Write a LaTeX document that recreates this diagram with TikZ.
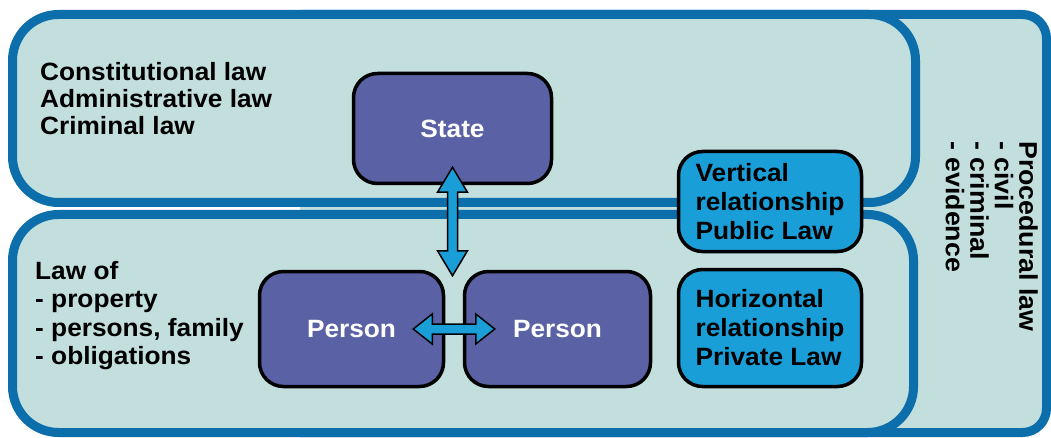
\documentclass[tikz,border=0pt]{standalone}
\usepackage{fontspec}
\setmainfont{Liberation Sans}[FakeStretch=1.05]
\usetikzlibrary{calc}
\definecolor{paneFill}{RGB}{194,222,221}
\definecolor{paneEdge}{RGB}{12,110,170}
\definecolor{actorFill}{RGB}{90,98,165}
\definecolor{tagFill}{RGB}{26,158,216}
\begin{document}
\begin{tikzpicture}[x=1pt,y=-1pt,
  pane/.style={draw=paneEdge, fill=paneFill, line width=9pt},
  actor/.style={draw=black, fill=actorFill, line width=3.5pt, rounded corners=24pt,
    text=white, font=\fontsize{25}{27}\selectfont\bfseries},
  tag/.style={draw=black, fill=tagFill, line width=3.5pt, rounded corners=24pt,
    align=left, font=\fontsize{25}{29}\selectfont\bfseries, inner sep=0pt},
  txt/.style={align=left, inner sep=0pt, font=\fontsize{25}{27}\selectfont\bfseries},
  fatarrow/.style={draw=black, fill=tagFill, line width=1.5pt, line join=miter}]
\useasboundingbox (0,0) rectangle (1051,438);

% outer frame holding the procedural law column (left side hidden behind the panes)
\fill[paneFill, rounded corners=24pt] (300,14.5) rectangle (1046.5,432.5);
\draw[draw=paneEdge, line width=9pt, rounded corners=24pt]
  (300,14.5) -- (1046.5,14.5) -- (1046.5,432.5) -- (300,432.5);
% public and private law panes
\draw[pane, rounded corners=46pt] (12.5,14.5) rectangle (915.5,202.5);
\draw[pane, rounded corners=46pt] (12.5,214.5) rectangle (913.5,432.5);

% actors
\node[actor, minimum width=198pt, minimum height=110pt] (state) at (452.5,128.5) {State};
\node[actor, minimum width=184pt, minimum height=115pt] (p1) at (351.5,329) {Person};
\node[actor, minimum width=186pt, minimum height=115pt] (p2) at (557.5,329) {Person};

% relationship tags
\node[tag, minimum width=183pt, minimum height=100pt] (vert) at (770,201.5)
  {Vertical\\relationship\\Public Law};
\node[tag, minimum width=183pt, minimum height=117pt] (horz) at (770,328)
  {Horizontal\\relationship\\Private Law};

% area labels
\node[txt, anchor=north west] (pub) at (40,62)
  {Constitutional law\\Administrative law\\Criminal law};
\node[txt, anchor=north west, font=\fontsize{25}{28.5}\selectfont\bfseries] (priv) at (35,261)
  {Law of\\- property\\- persons, family\\- obligations};
\node[txt, rotate=-90, anchor=north west, font=\fontsize{25.5}{24.5}\selectfont\bfseries]
  (proc) at (1038,141)
  {Procedural law\\- civil\\- criminal\\- evidence};

% state <-> persons
\coordinate (vtop) at ($(state.south)+(0,-18)$);
\coordinate (vbot) at ($(vtop |- p1.north)+(0,6)$);
\draw[fatarrow] (vtop) -- ++(15,25) -- ++(-10,0) -- ($(vbot)+(5,-25)$) -- ++(10,0)
  -- (vbot) -- ++(-15,-25) -- ++(10,0) -- ($(vtop)+(-5,25)$) -- ++(-10,0) -- cycle;

% person <-> person
\coordinate (hl) at ($(p1.east)+(-32,0)$);
\coordinate (hr) at ($(p2.west)+(32,0)$);
\draw[fatarrow] (hl) -- ++(19,-15) -- ++(0,10) -- ($(hr)+(-19,-5)$) -- ++(0,-10)
  -- (hr) -- ++(-19,15) -- ++(0,-10) -- ($(hl)+(19,5)$) -- ++(0,10) -- cycle;
\end{tikzpicture}
\end{document}
